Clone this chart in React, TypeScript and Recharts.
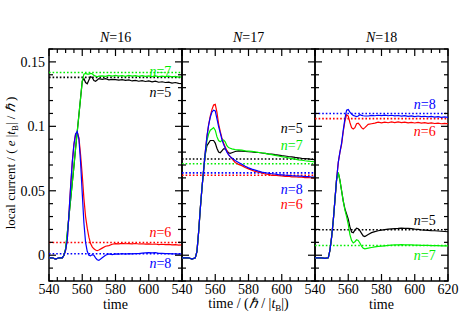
import { LineChart, Line, XAxis, YAxis, ReferenceLine, ReferenceArea, ReferenceDot } from "recharts"

// time samples shared by all series (finer near the transient)
const time = [
  540, 542, 544, 546, 548,
  549, 550, 551, 552, 553, 554, 555, 556, 557, 558,
  559, 560, 561, 562, 563, 564, 565, 566, 567, 568, 569, 570,
  572, 574, 576, 578, 580, 582, 584, 586, 588, 590, 592, 594,
  596, 598, 600, 602, 604, 606, 608, 610, 612, 614, 616, 618, 620,
]

// N=16
const n16_5 = [
  -0.002, -0.002, -0.003, -0.002, -0.002,
  0.0, 0.005, 0.017, 0.03, 0.043, 0.056, 0.069, 0.083, 0.096, 0.109,
  0.122, 0.135, 0.137, 0.134, 0.133, 0.136, 0.1385, 0.138, 0.1355, 0.135, 0.136, 0.137,
  0.1365, 0.137, 0.136, 0.1365, 0.1362, 0.1358, 0.1363, 0.1356, 0.136, 0.1352, 0.1357, 0.135,
  0.1355, 0.1348, 0.1352, 0.1345, 0.135, 0.1342, 0.1346, 0.134, 0.1343, 0.1336, 0.134, 0.1333, 0.1332,
]
const n16_6 = [
  -0.002, -0.002, -0.003, -0.002, -0.002,
  0.0, 0.004, 0.012, 0.032, 0.053, 0.072, 0.086, 0.094, 0.0955, 0.091,
  0.078, 0.062, 0.044, 0.03, 0.021, 0.014, 0.009, 0.0065, 0.005, 0.004, 0.0035, 0.004,
  0.0055, 0.007, 0.0075, 0.0085, 0.009, 0.0088, 0.0092, 0.0089, 0.009, 0.0088, 0.0091, 0.0087,
  0.0089, 0.0086, 0.0088, 0.0085, 0.0087, 0.0083, 0.0085, 0.0082, 0.0084, 0.008, 0.0082, 0.0079, 0.008,
]
const n16_7 = [
  -0.002, -0.002, -0.003, -0.002, -0.002,
  0.0, 0.005, 0.017, 0.03, 0.043, 0.056, 0.069, 0.083, 0.096, 0.109,
  0.122, 0.135, 0.1405, 0.141, 0.1405, 0.1405, 0.141, 0.1408, 0.1395, 0.139, 0.1385, 0.139,
  0.1392, 0.1388, 0.1395, 0.139, 0.1396, 0.139, 0.1394, 0.1388, 0.1395, 0.1389, 0.1394, 0.1388,
  0.1393, 0.1387, 0.1392, 0.1386, 0.1391, 0.1386, 0.139, 0.1385, 0.139, 0.1384, 0.1388, 0.1382, 0.1384,
]
const n16_8 = [
  -0.002, -0.002, -0.003, -0.002, -0.002,
  0.0, 0.004, 0.012, 0.032, 0.053, 0.072, 0.086, 0.094, 0.096, 0.09,
  0.072, 0.048, 0.025, 0.01, 0.003, 0.0, -0.0005, 0.0005, 0.0, -0.002, -0.0035, -0.004,
  -0.002, 0.0, 0.001, 0.0005, 0.001, 0.0008, 0.0012, 0.0009, 0.0012, 0.001, 0.0013, 0.0012,
  0.0016, 0.0018, 0.002, 0.0018, 0.002, 0.0015, 0.0014, 0.0012, 0.0013, 0.001, 0.0011, 0.0009, 0.001,
]

// N=17
const n17_5 = [
  -0.002, -0.002, -0.002, -0.003, -0.002,
  0.003, 0.018, 0.036, 0.052, 0.066, 0.078, 0.085, 0.087, 0.089, 0.089,
  0.089, 0.087, 0.083, 0.08, 0.0795, 0.081, 0.0825, 0.0825, 0.081, 0.0795, 0.079, 0.0795,
  0.0805, 0.081, 0.0808, 0.0806, 0.0803, 0.0801, 0.0798, 0.0797, 0.0793, 0.079, 0.0786, 0.0784,
  0.078, 0.0777, 0.0773, 0.077, 0.0766, 0.0763, 0.0759, 0.0756, 0.0752, 0.075, 0.0747, 0.0744, 0.0742,
]
const n17_6 = [
  -0.002, -0.002, -0.002, -0.003, -0.002,
  0.003, 0.018, 0.036, 0.052, 0.066, 0.08, 0.092, 0.101, 0.108, 0.113,
  0.1165, 0.117, 0.111, 0.102, 0.096, 0.091, 0.087, 0.084, 0.081, 0.078, 0.0765, 0.075,
  0.072, 0.0705, 0.0695, 0.068, 0.067, 0.066, 0.065, 0.0645, 0.0638, 0.063, 0.0627, 0.062,
  0.0622, 0.0617, 0.0616, 0.0612, 0.0613, 0.0608, 0.0609, 0.0605, 0.0606, 0.0602, 0.0603, 0.0599, 0.0598,
]
const n17_7 = [
  -0.002, -0.002, -0.002, -0.003, -0.002,
  0.003, 0.018, 0.036, 0.052, 0.066, 0.079, 0.089, 0.094, 0.097, 0.098,
  0.099, 0.097, 0.092, 0.089, 0.088, 0.089, 0.0895, 0.088, 0.085, 0.0835, 0.083, 0.0825,
  0.082, 0.0818, 0.0815, 0.081, 0.0808, 0.0805, 0.0802, 0.0798, 0.0795, 0.079, 0.0785, 0.078,
  0.0775, 0.077, 0.0765, 0.076, 0.0755, 0.075, 0.0745, 0.074, 0.0737, 0.0733, 0.073, 0.0727, 0.0724,
]
const n17_8 = [
  -0.002, -0.002, -0.002, -0.003, -0.002,
  0.003, 0.018, 0.036, 0.052, 0.066, 0.08, 0.092, 0.101, 0.107, 0.111,
  0.1125, 0.112, 0.106, 0.1, 0.095, 0.09, 0.086, 0.083, 0.08, 0.078, 0.0765, 0.0755,
  0.0735, 0.072, 0.0705, 0.069, 0.0678, 0.0668, 0.066, 0.0652, 0.0645, 0.064, 0.0636, 0.0632,
  0.063, 0.0626, 0.0624, 0.0621, 0.062, 0.0617, 0.0616, 0.0613, 0.0613, 0.061, 0.061, 0.0607, 0.0607,
]

// N=18
const n18_5 = [
  -0.002, -0.002, -0.002, -0.0025, -0.002,
  0.004, 0.014, 0.027, 0.043, 0.059, 0.064, 0.058, 0.05, 0.042, 0.036,
  0.032, 0.028, 0.022, 0.018, 0.0175, 0.0195, 0.021, 0.0205, 0.019, 0.017, 0.015, 0.0145,
  0.016, 0.0175, 0.0183, 0.019, 0.0195, 0.0198, 0.0202, 0.0205, 0.0207, 0.0208, 0.021, 0.0209,
  0.0208, 0.0207, 0.0203, 0.02, 0.0197, 0.0195, 0.0193, 0.0191, 0.019, 0.0188, 0.0186, 0.0184, 0.0182,
]
const n18_6 = [
  -0.002, -0.002, -0.002, -0.0025, -0.002,
  0.004, 0.014, 0.027, 0.043, 0.059, 0.072, 0.08, 0.086, 0.096, 0.104,
  0.109, 0.108, 0.103, 0.099, 0.098, 0.099, 0.102, 0.1025, 0.101, 0.099, 0.098, 0.099,
  0.1015, 0.102, 0.1025, 0.1032, 0.1027, 0.1033, 0.1028, 0.1034, 0.1029, 0.1034, 0.1029, 0.1033,
  0.1027, 0.1031, 0.1026, 0.103, 0.1025, 0.1028, 0.1023, 0.1027, 0.1022, 0.1025, 0.102, 0.1023, 0.102,
]
const n18_7 = [
  -0.002, -0.002, -0.002, -0.0025, -0.002,
  0.004, 0.014, 0.027, 0.043, 0.059, 0.064, 0.058, 0.05, 0.042, 0.035,
  0.03, 0.024, 0.016, 0.0115, 0.0095, 0.0105, 0.012, 0.0115, 0.0095, 0.007, 0.0055, 0.005,
  0.0055, 0.006, 0.0065, 0.0068, 0.007, 0.0073, 0.0076, 0.0078, 0.008, 0.0081, 0.0082, 0.0081,
  0.0081, 0.008, 0.0079, 0.0078, 0.0077, 0.0077, 0.0076, 0.0075, 0.0075, 0.0074, 0.0073, 0.0073, 0.0072,
]
const n18_8 = [
  -0.002, -0.002, -0.002, -0.0025, -0.002,
  0.004, 0.014, 0.027, 0.043, 0.059, 0.072, 0.08, 0.087, 0.097, 0.106,
  0.1125, 0.113, 0.111, 0.1095, 0.1085, 0.108, 0.1075, 0.108, 0.109, 0.1085, 0.1082, 0.108,
  0.108, 0.1085, 0.1082, 0.1086, 0.1083, 0.1087, 0.1082, 0.1086, 0.1081, 0.1084, 0.1079, 0.1083,
  0.1078, 0.1081, 0.1076, 0.108, 0.1075, 0.1078, 0.1073, 0.1077, 0.1071, 0.1075, 0.107, 0.1073, 0.107,
]

// dotted reference levels, order n=5,6,7,8
const levels16 = [0.138, 0.0099, 0.1418, 0.0012]
const levels17 = [0.0747, 0.062, 0.071, 0.0639]
const levels18 = [0.0198, 0.106, 0.0076, 0.11]

// label anchors (time, value), order n=5,6,7,8
const labels16 = [[607, 0.127], [607, 0.0183], [607, 0.1426], [607, -0.0058]]
const labels17 = [[606, 0.0988], [606, 0.0398], [606, 0.0853], [606, 0.0517]]
const labels18 = [[606, 0.0276], [606, 0.0962], [606, -0.0002], [606, 0.117]]

const nValues = [5, 6, 7, 8]
const colors = ["#000000", "#ff0000", "#00ee00", "#0000ff"]

const xTicks = [540, 545, 550, 555, 560, 565, 570, 575, 580, 585, 590, 595, 600, 605, 610, 615, 620]
const xLabels = [540, 560, 580, 600, 620]
const yTicks = [-0.02, -0.01, 0, 0.01, 0.02, 0.03, 0.04, 0.05, 0.06, 0.07, 0.08, 0.09, 0.1, 0.11, 0.12, 0.13, 0.14, 0.15, 0.16]
const yLabels = [0, 0.05, 0.1, 0.15]

const FONT = "'Liberation Serif', 'Times New Roman', serif"
const W = 469
const H = 331
const TOP = 49
const BOTTOM = 281
const PLOT_W = 133
const PLOT_H = BOTTOM - TOP

const near = (list: number[], v: number) => list.some((l) => Math.abs(l - v) < 1e-9)

function XTick(props: any) {
  const { x, y, payload, showLast } = props
  const v = payload.value
  const major = near(xLabels, v)
  const len = major ? 7 : 4
  const showText = major && (v < 620 || showLast)
  return (
    <g>
      <line x1={x} x2={x} y1={y} y2={y - len} stroke="#000" strokeWidth={1.2} />
      <line x1={x} x2={x} y1={y - PLOT_H} y2={y - PLOT_H + len} stroke="#000" strokeWidth={1.2} />
      {showText && (
        <text x={x} y={y + 13} textAnchor="middle" style={{ fontFamily: FONT, fontSize: 14 }} fill="#000">
          {v}
        </text>
      )}
    </g>
  )
}

function YTick(props: any) {
  const { x, y, payload, showText } = props
  const v = payload.value
  const major = near(yLabels, v)
  const len = major ? 7 : 4
  return (
    <g>
      <line x1={x} x2={x + len} y1={y} y2={y} stroke="#000" strokeWidth={1.2} />
      <line x1={x + PLOT_W} x2={x + PLOT_W - len} y1={y} y2={y} stroke="#000" strokeWidth={1.2} />
      {showText && major && (
        <text x={x - 4} y={y + 5} textAnchor="end" style={{ fontFamily: FONT, fontSize: 14 }} fill="#000">
          {String(v)}
        </text>
      )}
    </g>
  )
}

type PanelProps = {
  left: number
  series: number[][]
  levels: number[]
  labels: number[][]
  first: boolean
  last: boolean
}

function Panel({ left, series, levels, labels, first, last }: PanelProps) {
  const data = time.map((t, i) => ({
    t,
    n5: series[0][i],
    n6: series[1][i],
    n7: series[2][i],
    n8: series[3][i],
  }))
  // axes get 1px of room each (zero-size axes are not drawn)
  return (
    <div style={{ position: "absolute", left: 0, top: 0 }}>
      <LineChart
        width={W}
        height={H}
        data={data}
        margin={{ top: TOP, bottom: H - BOTTOM - 1, left: left - 1, right: W - left - PLOT_W }}
      >
        <XAxis
          dataKey="t"
          type="number"
          domain={[540, 620]}
          ticks={xTicks}
          interval={0}
          height={1}
          tickSize={0}
          tickMargin={0}
          axisLine={false}
          tickLine={false}
          tick={(p: any) => <XTick {...p} showLast={last} />}
        />
        <YAxis
          type="number"
          domain={[-0.02, 0.16]}
          ticks={yTicks}
          interval={0}
          width={1}
          tickSize={0}
          tickMargin={0}
          axisLine={false}
          tickLine={false}
          tick={(p: any) => <YTick {...p} showText={first} />}
        />
        {levels.map((v, i) => (
          <ReferenceLine
            key={"lv" + i}
            y={v}
            stroke={colors[i]}
            strokeWidth={1.6}
            strokeDasharray="1.6 2"
          />
        ))}
        {nValues.map((n, i) => (
          <Line
            key={"n" + n}
            type="linear"
            dataKey={"n" + n}
            stroke={colors[i]}
            strokeWidth={1.2}
            dot={false}
            isAnimationActive={false}
          />
        ))}
        {labels.map(([lx, ly], i) => (
          <ReferenceDot
            key={"lb" + i}
            x={lx}
            y={ly}
            r={0}
            shape={(p: any) => (
              <text
                x={p.cx}
                y={p.cy + 5}
                textAnchor="middle"
                style={{ fontFamily: FONT, fontSize: 14 }}
                fill={colors[i]}
              >
                <tspan fontStyle="italic">n</tspan>={nValues[i]}
              </text>
            )}
          />
        ))}
        <ReferenceArea
          x1={540}
          x2={620}
          y1={-0.02}
          y2={0.16}
          fill="none"
          fillOpacity={0}
          stroke="#000"
          strokeWidth={1.5}
        />
      </LineChart>
    </div>
  )
}

const textStyle = {
  position: "absolute" as const,
  fontFamily: FONT,
  fontSize: 14,
  color: "#000",
  whiteSpace: "nowrap" as const,
  lineHeight: "12px",
}

// compact inline pieces so their boxes stay inside the 12px line
const it = { fontStyle: "italic" as const, display: "inline-block", lineHeight: "12px", height: 12 }
const sub = { fontSize: 9, display: "inline-block", lineHeight: "9px", height: 9, verticalAlign: "-3px" }

export default function App() {
  const lefts = [49, 182, 315]
  const titles = ["16", "17", "18"]
  return (
    <div style={{ position: "absolute", left: 0, top: 0, width: W, height: H, background: "#fff" }}>
      <Panel left={lefts[0]} series={[n16_5, n16_6, n16_7, n16_8]} levels={levels16} labels={labels16} first last={false} />
      <Panel left={lefts[1]} series={[n17_5, n17_6, n17_7, n17_8]} levels={levels17} labels={labels17} first={false} last={false} />
      <Panel left={lefts[2]} series={[n18_5, n18_6, n18_7, n18_8]} levels={levels18} labels={labels18} first={false} last />

      {titles.map((t, i) => (
        <div
          key={t}
          style={{ ...textStyle, left: lefts[i] + PLOT_W / 2, top: 38, transform: "translate(-50%, -50%)" }}
        >
          <span style={it}>N</span>={t}
        </div>
      ))}

      <div style={{ ...textStyle, left: lefts[0] + PLOT_W / 2, top: 305, transform: "translate(-50%, -50%)" }}>
        time
      </div>
      <div style={{ ...textStyle, left: lefts[1] + PLOT_W / 2, top: 305, transform: "translate(-50%, -50%)" }}>
        time / (<span style={it}>ℏ</span> / |<span style={it}>t</span>
        <span style={sub}>B</span>|)
      </div>
      <div style={{ ...textStyle, left: lefts[2] + PLOT_W / 2, top: 305, transform: "translate(-50%, -50%)" }}>
        time
      </div>

      <div
        style={{
          ...textStyle,
          fontSize: 13,
          left: 12,
          top: 163,
          transform: "translate(-50%, -50%) rotate(-90deg)",
        }}
      >
        local current / ( <span style={it}>e</span> |<span style={it}>t</span>
        <span style={sub}>B</span>| / <span style={it}>ℏ</span> )
      </div>
    </div>
  )
}
